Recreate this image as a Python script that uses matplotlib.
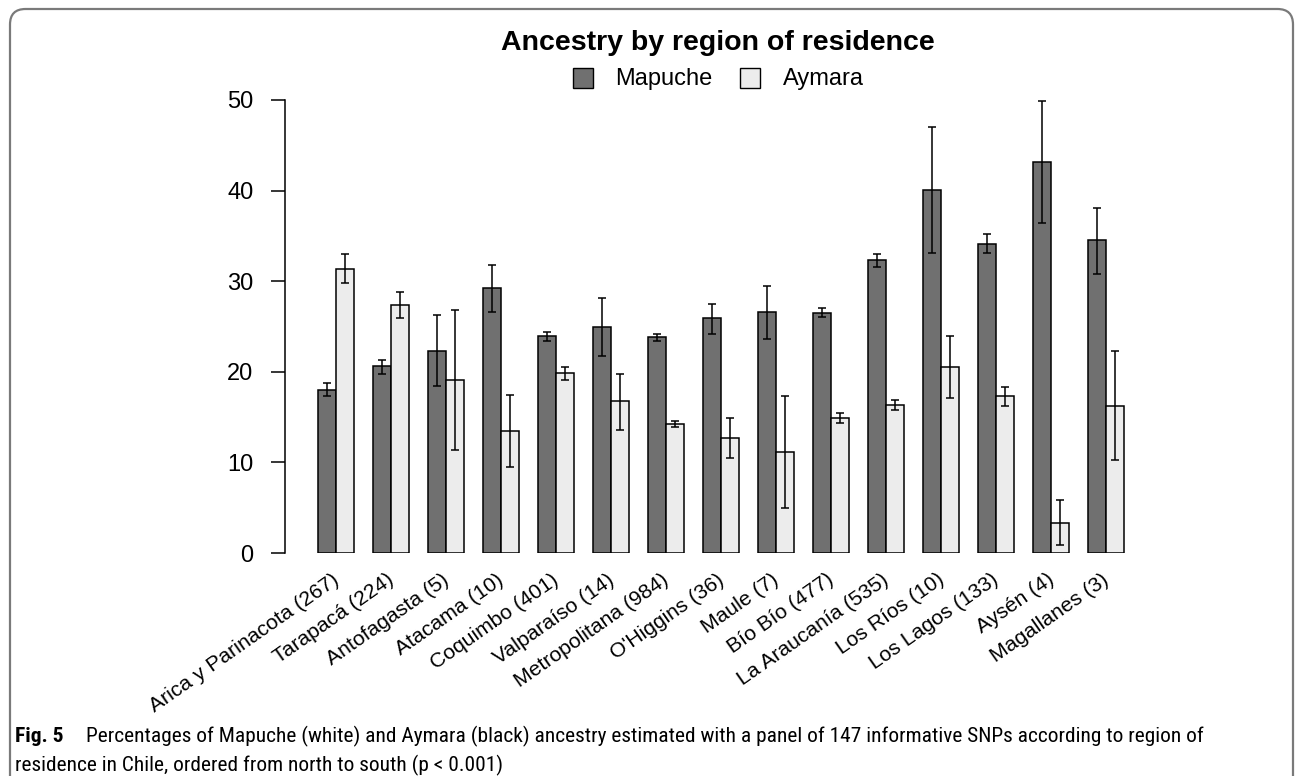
import numpy as np
import matplotlib
matplotlib.use("Agg")
import matplotlib.pyplot as plt
from matplotlib.patches import FancyBboxPatch, Rectangle
from matplotlib import font_manager
from matplotlib.font_manager import FontProperties

# ---------------- data ----------------
regions = ["Arica y Parinacota", "Tarapacá", "Antofagasta", "Atacama", "Coquimbo",
           "Valparaíso", "Metropolitana", "O'Higgins", "Maule", "Bío Bío",
           "La Araucanía", "Los Ríos", "Los Lagos", "Aysén", "Magallanes"]
counts = [267, 224, 5, 10, 401, 14, 984, 36, 7, 477, 535, 10, 133, 4, 3]

mapuche    = [18.0, 20.6, 22.3, 29.2, 24.0, 24.9, 23.8, 25.9, 26.6, 26.5, 32.3, 40.1, 34.1, 43.2, 34.5]
mapuche_lo = [17.3, 19.8, 18.4, 26.6, 23.4, 21.7, 23.45, 24.2, 23.6, 26.0, 31.55, 33.1, 33.1, 36.4, 30.8]
mapuche_hi = [18.8, 21.35, 26.25, 31.75, 24.4, 28.1, 24.2, 27.5, 29.5, 27.0, 32.95, 47.05, 35.2, 49.9, 38.1]

aymara    = [31.4, 27.4, 19.1, 13.5, 19.85, 16.75, 14.25, 12.7, 11.15, 14.9, 16.3, 20.5, 17.3, 3.3, 16.25]
aymara_lo = [29.8, 25.9, 11.35, 9.5, 19.1, 13.6, 13.9, 10.45, 5.0, 14.3, 15.75, 17.1, 16.25, 0.85, 10.25]
aymara_hi = [33.0, 28.85, 26.8, 17.45, 20.5, 19.8, 14.6, 14.9, 17.35, 15.45, 16.85, 23.95, 18.35, 5.8, 22.3]

series_names = ["Mapuche", "Aymara"]
yticks = [0, 10, 20, 30, 40, 50]
title = "Ancestry by region of residence"
caption_bold = "Fig. 5"
caption_line1 = ("Percentages of Mapuche (white) and Aymara (black) ancestry estimated with a panel "
                 "of 147 informative SNPs according to region of")
caption_line2 = "residence in Chile, ordered from north to south (p < 0.001)"

# ---------------- style ----------------
W, H = 1295, 776
DARK, LIGHT = "#707070", "#ececec"
FONT = "Liberation Sans"

plt.rcParams["font.family"] = [FONT, "DejaVu Sans"]


def find_condensed(bold=False):
    """Look for an installed condensed/narrow sans face for the caption."""
    prefs = ["Liberation Sans Narrow", "Roboto Condensed", "Open Sans Condensed",
             "Noto Sans", "Open Sans", "Roboto", "DejaVu Sans", "Lato", "Inter"]
    want_w = 700 if bold else 400
    best = None
    for pref in prefs:
        for f in font_manager.fontManager.ttflist:
            if f.name != pref:
                continue
            if f.style != "normal":
                continue
            stretch = str(f.stretch)
            narrow = ("condensed" in stretch.lower() or "narrow" in f.name.lower()
                      or "condensed" in f.name.lower() or "condensed" in f.fname.lower()
                      or "narrow" in f.fname.lower())
            if not narrow:
                continue
            try:
                w = int(f.weight)
            except Exception:
                w = 700 if "bold" in str(f.weight) else 400
            if "semi" in f.fname.lower() or "light" in f.fname.lower() or "medium" in f.fname.lower() \
                    or "extra" in f.fname.lower() or "black" in f.fname.lower() or "thin" in f.fname.lower():
                continue
            if abs(w - want_w) <= 100:
                return f.fname
    return best


cap_reg_path = find_condensed(False)
cap_bold_path = find_condensed(True)


def cap_props(bold, size):
    path = cap_bold_path if bold else cap_reg_path
    if path:
        return FontProperties(fname=path, size=size)
    return FontProperties(family=FONT, size=size, weight="bold" if bold else "normal")


fig = plt.figure(figsize=(W / 100, H / 100), dpi=100)


def fx(px):
    return px / W


def fy(py):  # py measured from top
    return 1 - py / H


# axes geometry in pixels
unit = 55.0 / 3.0
unit0_px = 317.7 - unit
ax_left, ax_right = 284.5, 1150.0
ax_top, ax_bottom = 100.0, 553.0
ax = fig.add_axes([fx(ax_left), fy(ax_bottom), (ax_right - ax_left) / W, (ax_bottom - ax_top) / H])
ax.set_xlim((ax_left - unit0_px) / unit, (ax_right - unit0_px) / unit)
ax.set_ylim(0, 50)

n = len(regions)
base = np.arange(n) * 3
x_dark = base + 1.5
x_light = base + 2.5

m = np.array(mapuche)
a = np.array(aymara)
ax.bar(x_dark, m, width=1.0, color=DARK, edgecolor="black", linewidth=1.1, zorder=2)
ax.bar(x_light, a, width=1.0, color=LIGHT, edgecolor="black", linewidth=1.1, zorder=2)

m_err = np.vstack([m - np.array(mapuche_lo), np.array(mapuche_hi) - m])
a_err = np.vstack([a - np.array(aymara_lo), np.array(aymara_hi) - a])
for xx, yy, ee in ((x_dark, m, m_err), (x_light, a, a_err)):
    eb = ax.errorbar(xx, yy, yerr=ee, fmt="none", ecolor="black", elinewidth=1.1,
                     capsize=3, capthick=1.1, zorder=3)
    for c in eb.get_children():
        c.set_clip_on(False)

# axes styling
for s in ("top", "right", "bottom"):
    ax.spines[s].set_visible(False)
ax.spines["left"].set_linewidth(1.1)
ax.set_yticks(yticks)
ax.set_yticklabels([str(t) for t in yticks], fontsize=17, family=FONT)
ax.tick_params(axis="y", direction="out", length=10.4, width=1.1, pad=12)
ax.set_xticks([])
ax.patch.set_visible(False)

# rotated category labels
lab_y = -(578 - ax_bottom) / (ax_bottom - ax_top)
for i in range(n):
    ax.text(base[i] + 2.05, lab_y, f"{regions[i]} ({counts[i]})", transform=ax.get_xaxis_transform(),
            rotation=35, rotation_mode="anchor", ha="right", va="center",
            fontsize=15.2, family=FONT, clip_on=False)

# title
fig.text(fx(718), fy(50), title, ha="center", va="baseline", fontsize=20.5,
         fontweight="bold", family=FONT)

# legend (manual, R style)
sq = 20
for x0, col, txt_x, name in ((573, DARK, 615, series_names[0]), (740, LIGHT, 783, series_names[1])):
    fig.patches.append(Rectangle((fx(x0), fy(88)), sq / W, sq / H, transform=fig.transFigure,
                                 facecolor=col, edgecolor="black", linewidth=1.0))
    fig.text(fx(txt_x), fy(85), name, ha="left", va="baseline", fontsize=17, family=FONT)

# rounded frame
frame = FancyBboxPatch((fx(10), fy(800)), fx(1293 - 10), (800 - 9) / H,
                       boxstyle="round,pad=0,rounding_size=0.012",
                       transform=fig.transFigure, facecolor="none",
                       edgecolor="#7a7a7a", linewidth=1.6, clip_on=False,
                       mutation_aspect=W / H)
fig.patches.append(frame)

# caption
fig.canvas.draw()
r = fig.canvas.get_renderer()
cap_size = 15
t1 = fig.text(fx(86.5), fy(742), caption_line1, ha="left", va="baseline",
              fontproperties=cap_props(False, cap_size))
w1 = t1.get_window_extent(r).width
cap_size = cap_size * (1205 - 86.5) / w1
t1.set_fontproperties(cap_props(False, cap_size))
fig.text(fx(15), fy(742), caption_bold, ha="left", va="baseline",
         fontproperties=cap_props(True, cap_size))
fig.text(fx(15), fy(771), caption_line2, ha="left", va="baseline",
         fontproperties=cap_props(False, cap_size))

fig.savefig("out.png", dpi=100)
